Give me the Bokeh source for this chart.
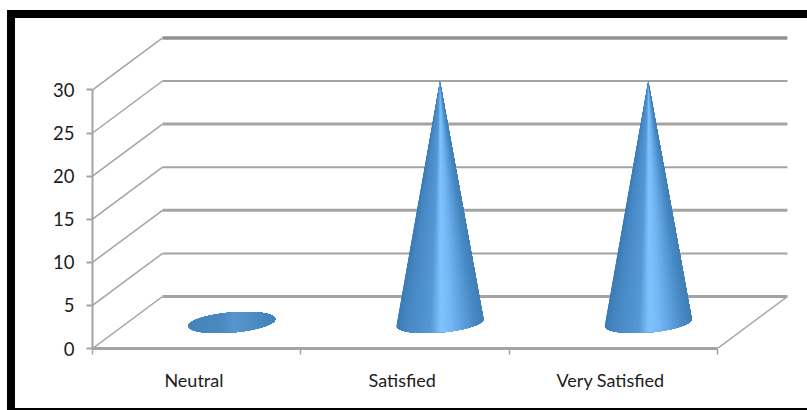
import numpy as np
from bokeh.models import ColumnDataSource, FixedTicker, InlineStyleSheet, Range1d
from bokeh.plotting import figure
from bokeh.embed import file_html
from bokeh.resources import INLINE

categories = ["Neutral", "Satisfied", "Very Satisfied"]
values = [0, 28, 28]
y_ticks = [0, 5, 10, 15, 20, 25, 30]
wall_line_widths = [3, 2, 3, 2, 3, 2, 3.5]
wall_line_colors = ["#a3a3a3"] * 6 + ["#929292"]

PX_PER_CATEGORY = 208.3
PX_PER_UNIT = 8.62
DEPTH_X = 70 / PX_PER_CATEGORY    # how far the floor recedes, in category widths
DEPTH_Y = 52 / PX_PER_UNIT        # and in value units
BASE_A = 43.5 / PX_PER_CATEGORY   # half width of a cone's base
BASE_B = 10 / PX_PER_UNIT         # half height of the base ellipse
BASE_TILT = 3.5 / PX_PER_UNIT     # rise of the base ellipse towards its right end
GRID = "#a3a3a3"
TEXT = "#1c1c1c"
FONT = "Lato"

# Surface shading across a cone, left edge to right edge.
SHADE_POS = [0.0, 0.1, 0.38, 0.5, 0.62, 0.88, 1.0]
SHADE_R = [0x3d, 0x47, 0x55, 0x80, 0x74, 0x4a, 0x40]
SHADE_G = [0x7c, 0x88, 0x98, 0xc4, 0xb8, 0x8c, 0x80]
SHADE_B = [0xb4, 0xc4, 0xd6, 0xff, 0xf5, 0xc8, 0xb6]


def shade(pos, mute=0.0):
    rgb = [np.interp(pos, SHADE_POS, c) for c in (SHADE_R, SHADE_G, SHADE_B)]
    base = (0x47, 0x84, 0xba)
    return "#%02x%02x%02x" % tuple(int(c * (1 - mute) + b * mute) for c, b in zip(rgb, base))


# Heavy black frame on the top, left and bottom of the page.
frame_css = InlineStyleSheet(css="""
:host::after {
  content: ""; position: absolute; left: 7px; top: 10px; width: 800px; height: 400px;
  box-sizing: border-box; border-style: solid; border-color: black;
  border-width: 8px 0 2px 8px; pointer-events: none;
}
""")

p = figure(width=807, height=410, output_backend="svg", toolbar_location=None,
           x_range=Range1d(0, 703 / PX_PER_CATEGORY), y_range=Range1d(0, 323 / PX_PER_UNIT),
           min_border_left=92, min_border_right=12, min_border_top=25, min_border_bottom=62,
           background_fill_color="white", border_fill_color="white", outline_line_color=None,
           stylesheets=[frame_css])
p.grid.visible = False

# Back wall and side wall lines for every value tick.
n = len(categories)
for tick, lw, lc in zip(y_ticks, wall_line_widths, wall_line_colors):
    p.line([0, DEPTH_X], [tick, tick + DEPTH_Y], line_color=GRID, line_width=1.5)
    p.line([DEPTH_X, n + DEPTH_X], [tick + DEPTH_Y, tick + DEPTH_Y], line_color=lc, line_width=lw)
p.line([n, n + DEPTH_X], [0, DEPTH_Y], line_color=GRID, line_width=1.5)

# Each cone is painted left to right as shapes that cover everything to the right
# of a moving edge, which gives a smooth shading with no seams between slices.
xs, ys, colors = [], [], []
for i, val in enumerate(values):
    cx = i + 0.5 + DEPTH_X / 2
    cy = DEPTH_Y / 2
    for theta in np.linspace(np.pi, 0.02, 70):
        if val > 0:
            # visible front half of the base, from the edge round to its right end
            start = 2 * np.pi - theta
            angles = np.linspace(start, 2 * np.pi, 40)
        else:
            angles = np.linspace(-theta, theta, 80)
        bx = cx + BASE_A * np.cos(angles)
        by = cy + BASE_B * np.sin(angles) + BASE_TILT * np.cos(angles)
        if val > 0:
            xs.append(np.r_[cx, bx].tolist())
            ys.append(np.r_[cy + val, by].tolist())
        else:
            xs.append(bx.tolist())
            ys.append(by.tolist())
        colors.append(shade((np.cos(theta) + 1) / 2, 0.0 if val > 0 else 0.72))
src = ColumnDataSource(dict(xs=xs, ys=ys, color=colors))
p.patches("xs", "ys", source=src, fill_color="color", line_color=None)

yaxis = p.yaxis[0]
yaxis.bounds = (0, 30)
yaxis.ticker = FixedTicker(ticks=y_ticks)
yaxis.axis_line_color = GRID
yaxis.axis_line_width = 2
yaxis.major_tick_line_color = GRID
yaxis.major_tick_line_width = 2
yaxis.major_tick_out = 6
yaxis.major_tick_in = 0
yaxis.minor_tick_line_color = None
yaxis.major_label_standoff = 12
yaxis.major_label_text_font = FONT
yaxis.major_label_text_font_size = "18.5px"
yaxis.major_label_text_color = TEXT

# Category names sit between the boundary ticks, so labels take the major ticks
# and the boundaries take the minor ones.
label_ticks = [i + 0.487 for i in range(n)]
xaxis = p.xaxis[0]
xaxis.bounds = (0, n)
xaxis.ticker = FixedTicker(ticks=label_ticks, minor_ticks=list(range(n + 1)))
xaxis.major_label_overrides = {t: c for t, c in zip(label_ticks, categories)}
xaxis.axis_line_color = GRID
xaxis.axis_line_width = 3
xaxis.major_tick_line_color = None
xaxis.minor_tick_line_color = GRID
xaxis.minor_tick_line_width = 1.5
xaxis.minor_tick_out = 6
xaxis.minor_tick_in = 0
xaxis.major_label_standoff = 14
xaxis.major_label_text_font = FONT
xaxis.major_label_text_font_size = "18px"
xaxis.major_label_text_color = TEXT

open("out.html", "w").write(file_html(p, INLINE))
